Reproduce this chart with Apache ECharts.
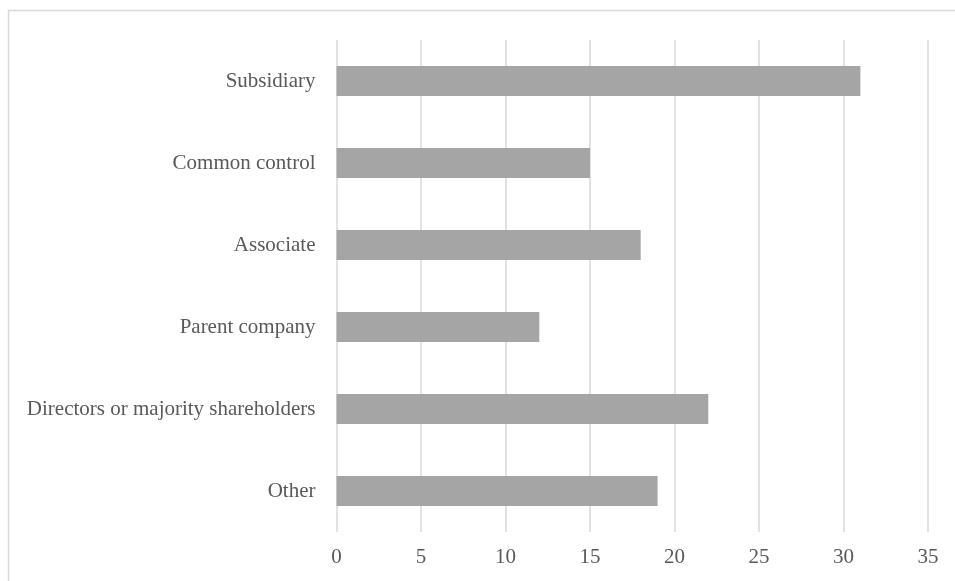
<!DOCTYPE html>
<html>
<head>
<meta charset="utf-8">
<script src="https://cdn.jsdelivr.net/npm/echarts@6/dist/echarts.min.js"></script>
<style>
  html, body { margin: 0; padding: 0; background: #ffffff; }
  #chart { width: 955px; height: 581px; }
</style>
</head>
<body>
<div id="chart"></div>
<script>
// Related-party categories, listed top to bottom
const categories = [
  'Subsidiary',
  'Common control',
  'Associate',
  'Parent company',
  'Directors or majority shareholders',
  'Other'
];
// Counts per category, same order
const counts = [31, 15, 18, 12, 22, 19];
// Value axis range
const axisMin = 0;
const axisMax = 35;
const axisStep = 5;

const textColor = '#595959';
const fontFamily = '"Liberation Serif", "Times New Roman", serif';

const chart = echarts.init(document.getElementById('chart'), null, { renderer: 'canvas' });

chart.setOption({
  animation: false,
  backgroundColor: '#ffffff',
  graphic: [{
    type: 'rect',
    shape: { x: 8.5, y: 10.5, width: 1000, height: 1000 },
    style: { fill: 'none', stroke: '#d9d9d9', lineWidth: 1.5 },
    silent: true
  }],
  grid: { left: 336.5, right: 27, top: 40, bottom: 49, containLabel: false },
  xAxis: {
    type: 'value',
    min: axisMin,
    max: axisMax,
    interval: axisStep,
    axisLine: { show: false },
    axisTick: { show: false },
    axisLabel: { color: textColor, fontFamily: fontFamily, fontSize: 21, margin: 15 },
    splitLine: { show: true, lineStyle: { color: '#d9d9d9', width: 1.5 } }
  },
  yAxis: {
    type: 'category',
    data: categories.slice().reverse(),
    axisLine: { show: false },
    axisTick: { show: false },
    axisLabel: { color: textColor, fontFamily: fontFamily, fontSize: 21, margin: 21 },
    splitLine: { show: false }
  },
  series: [{
    type: 'bar',
    data: counts.slice().reverse(),
    barWidth: '36.5%',
    itemStyle: { color: '#a5a5a5' },
    silent: true
  }]
});
</script>
</body>
</html>
